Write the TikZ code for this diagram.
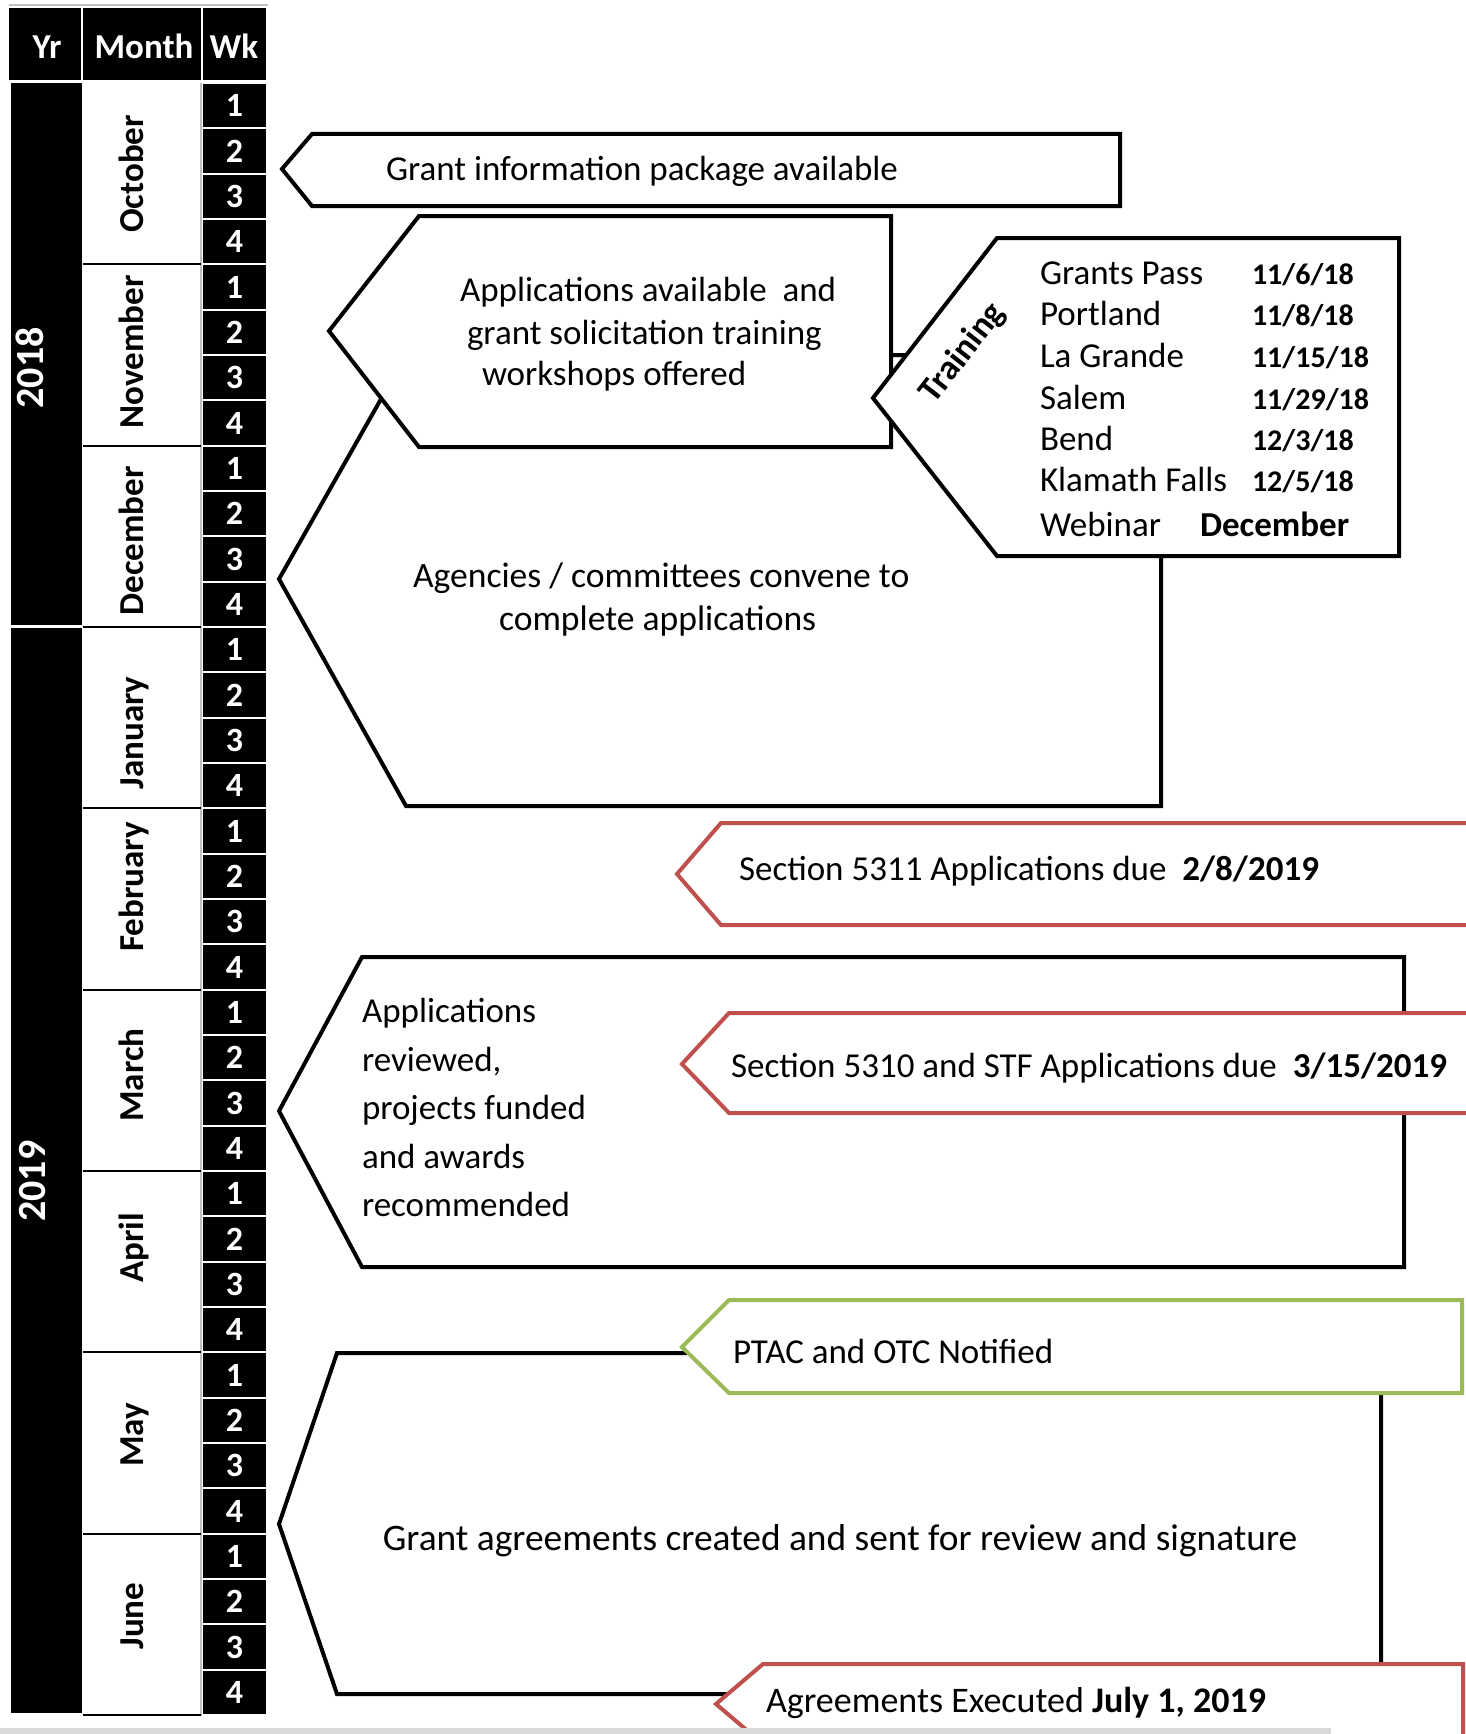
\documentclass[tikz,border=0pt]{standalone}
\usepackage{fontspec}
\setmainfont{Carlito}
\definecolor{accred}{HTML}{C0504D}
\definecolor{accgreen}{HTML}{9BBB59}
\definecolor{lgrey}{HTML}{D9D9D9}
\definecolor{mgrey}{HTML}{BFBFBF}
\begin{document}
\begin{tikzpicture}[x=0.5pt,y=-0.5pt,
  every node/.style={inner sep=0pt, outer sep=0pt, font=\fontsize{17.5}{20}\selectfont},
  hdrtext/.style={text=white, font=\fontsize{17.5}{20}\selectfont\bfseries, anchor=base},
  wknum/.style={text=white, font=\fontsize{17}{20}\selectfont\bfseries, anchor=base},
  monthtext/.style={rotate=90, anchor=base, font=\fontsize{17.5}{20}\selectfont\bfseries},
  yeartext/.style={rotate=90, anchor=base, text=white, font=\fontsize{20}{24}\selectfont\bfseries},
  blackshape/.style={draw=black, line width=2pt, fill=white},
  redshape/.style={draw=accred, line width=2pt, fill=white},
  greenshape/.style={draw=accgreen, line width=2pt, fill=white},
  lbl/.style={anchor=base west},
  clbl/.style={anchor=base},
  datelbl/.style={anchor=base west, font=\fontsize{15}{18}\selectfont\bfseries},
]
\useasboundingbox (0,0) rectangle (1466,1734);
\clip (0,0) rectangle (1466,1734);
\fill[white] (0,0) rectangle (1466,1734);

% ---------- left table ----------
\draw[mgrey, line width=0.75pt] (9,5) -- (268,5);
\fill[black] (9,8) rectangle (81,80);
\fill[black] (83,8) rectangle (201,80);
\fill[black] (203,8) rectangle (266,80);
\node[hdrtext] (hyr) at (47,59) {Yr};
\node[hdrtext] (hmo) at (144,59) {Month};
\node[hdrtext] (hwk) at (234,59) {Wk};

\fill[black] (11,83) rectangle (82,625);
\fill[black] (11,628) rectangle (82,1713);
\node[yeartext] (y18) at (43,368) {2018};
\node[yeartext] (y19) at (45,1181) {2019};

\draw[mgrey, line width=0.75pt] (201,83) -- (201,1716);
\foreach \i in {1,...,9} {
  \draw[black, line width=1pt] (83,{83+181.33*\i}) -- (201,{83+181.33*\i});
}
\foreach \m/\yy [count=\i] in {October/174, November/352, December/541, January/733, February/887, March/1075, April/1248, May/1435, June/1616} {
  \node[monthtext] (m\i) at (143,\yy) {\m};
}
\foreach \k in {0,...,35} {
  \pgfmathtruncatemacro{\w}{mod(\k,4)+1}
  \fill[black] (203,{83+45.33*\k+1}) rectangle (266,{83+45.33*(\k+1)-1});
  \node[wknum] (w\k) at (234.5,{83+45.33*\k+34}) {\w};
}

% ---------- process shapes ----------
\draw[blackshape] (279,579) -- (406,355) -- (1161,355) -- (1161,806) -- (406,806) -- cycle;
\draw[blackshape] (282,169) -- (312,134) -- (1120,134) -- (1120,206) -- (312,206) -- cycle;
\draw[blackshape] (329,331) -- (419,216) -- (891,216) -- (891,447) -- (419,447) -- cycle;
\draw[blackshape] (873,398) -- (997,238) -- (1399,238) -- (1399,556) -- (997,556) -- cycle;
\draw[redshape] (677,874) -- (721,823) -- (1490,823) -- (1490,925) -- (721,925) -- cycle;
\draw[blackshape] (279,1111) -- (362,957) -- (1404,957) -- (1404,1267) -- (362,1267) -- cycle;
\draw[redshape] (682,1064) -- (729,1013) -- (1490,1013) -- (1490,1113) -- (729,1113) -- cycle;
\draw[blackshape] (279,1524) -- (337,1353) -- (1381,1353) -- (1381,1694) -- (337,1694) -- cycle;
\draw[greenshape] (682,1347) -- (729,1300) -- (1462,1300) -- (1462,1393) -- (729,1393) -- cycle;
\draw[redshape] (716,1704) -- (763,1664) -- (1463,1664) -- (1463,1744) -- (763,1744) -- cycle;

% ---------- texts ----------
\node[lbl] (t1) at (386,180) {Grant information package available};
\node[lbl] (t2a) at (460,301) {Applications available \ and};
\node[lbl] (t2b) at (467,344) {grant solicitation training};
\node[lbl] (t2c) at (482,385) {workshops offered};
\node[lbl, font=\fontsize{17.8}{20}\selectfont] (t3a) at (413,587) {Agencies / committees convene to};
\node[lbl, font=\fontsize{17.8}{20}\selectfont] (t3b) at (499,630) {complete applications};

\node[rotate=52, font=\fontsize{17.5}{20}\selectfont\bfseries] (ttr) at (963,353) {Training};
\foreach \c/\d/\yy [count=\j] in {Grants Pass/11\slash 6\slash 18/284, Portland/11\slash 8\slash 18/325, La Grande/11\slash 15\slash 18/367, Salem/11\slash 29\slash 18/409, Bend/12\slash 3\slash 18/450, Klamath Falls/12\slash 5\slash 18/491} {
  \node[lbl] (city\j) at (1040,\yy) {\c};
  \node[datelbl] (date\j) at (1252,\yy) {\d};
}
\node[lbl] (city7) at (1040,536) {Webinar};
\node[lbl, font=\fontsize{17.5}{20}\selectfont\bfseries] (date7) at (1200,536) {December};

\node[lbl] (t4) at (739,880) {Section 5311 Applications due\ \ \textbf{2/8/2019}};
\node[lbl] (t5a) at (362,1022) {Applications};
\node[lbl] (t5b) at (362,1071) {reviewed,};
\node[lbl] (t5c) at (362,1119) {projects funded};
\node[lbl] (t5d) at (362,1168) {and awards};
\node[lbl] (t5e) at (362,1216) {recommended};
\node[lbl] (t6) at (731,1077) {Section 5310 and STF Applications due\ \ \textbf{3/15/2019}};
\node[clbl, font=\fontsize{18.7}{22}\selectfont] (t7) at (840,1550) {Grant agreements created and sent for review and signature};
\node[lbl] (t8) at (733,1363) {PTAC and OTC Notified};
\node[lbl, font=\fontsize{18}{21}\selectfont] (t9) at (766,1712) {Agreements Executed \textbf{July 1, 2019}};

\fill[lgrey] (0,1728) rectangle (1331,1734);
\end{tikzpicture}
\end{document}
